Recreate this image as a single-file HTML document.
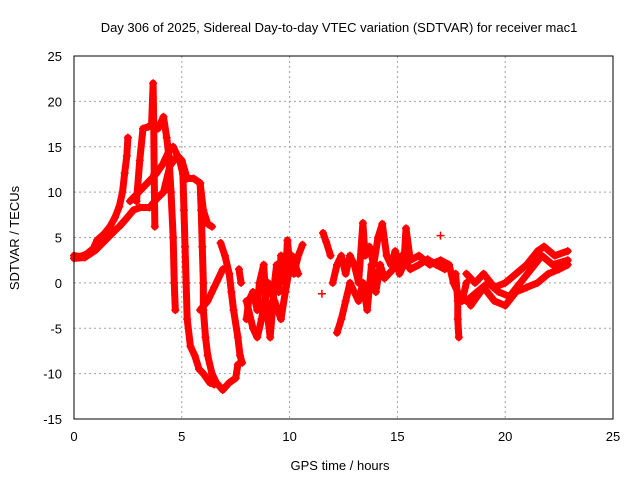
<!DOCTYPE html>
<html><head><meta charset="utf-8"><style>
body{margin:0;background:#fff;}
svg text{font-family:"Liberation Sans",sans-serif;font-size:13px;fill:#000;}
</style></head><body>
<svg width="640" height="480">
<g id="grid"></g>
<g id="series"></g>
<rect x="74" y="56" width="539" height="363" fill="none" stroke="#000"/>
<g id="ticks"></g>
<text x="339" y="32" text-anchor="middle">Day 306 of 2025, Sidereal Day-to-day VTEC variation (SDTVAR) for receiver mac1</text>
<text x="340" y="470" text-anchor="middle">GPS time / hours</text>
<text transform="translate(19,238) rotate(-90)" text-anchor="middle">SDTVAR / TECUs</text>
</svg>
<script>
const xTicks=[0,5,10,15,20,25];
const yTicks=[-15,-10,-5,0,5,10,15,20,25];
const trackA=[[0,3],[0.3,2.9],[0.6,3.2],[0.9,3.8],[1.07,4.7],[1.4,5.4],[1.67,6.2],[1.9,7.2],[2.1,8.4],[2.25,10],[2.35,12.1],[2.45,14],[2.5,16]];
const trackA2=[[0,2.7],[0.5,2.8],[1,3.6],[1.5,4.8],[2,6]];
const trackB=[[2.1,6.2],[2.4,7],[2.75,8],[3.05,8.3],[3.5,8.3],[3.85,9.3],[4.15,10],[4.45,12.9],[4.8,14],[5,13.5],[5.25,11.5],[5.55,11.5],[5.85,11],[6,8],[6.2,6.5],[6.4,6.2]];
const trackB2=[[2.6,9],[3.0,10],[3.4,11],[3.8,12],[4.1,13],[4.4,14.5]];
const trackC=[[2.9,9],[3.05,13.5],[3.2,17],[3.45,17.2],[3.6,17.5],[3.67,22],[3.7,17],[3.72,12],[3.75,6.2]];
const trackD=[[3.9,17],[4.15,18.3],[4.3,16],[4.4,14],[4.5,10],[4.6,5],[4.65,0],[4.7,-3]];
const trackE=[[4.6,15],[4.9,13.5],[5.05,12],[5.1,8],[5.15,4],[5.2,0],[5.25,-4],[5.4,-7],[5.6,-8],[5.8,-9.5],[6.0,-10],[6.3,-11],[6.5,-11.2]];
const trackF=[[5.85,11],[5.9,8],[5.95,4],[6.0,0],[6.0,-3],[6.1,-6],[6.2,-8],[6.4,-10],[6.6,-11],[6.9,-11.8],[7.2,-11],[7.5,-10.5],[7.6,-9]];
const trackG=[[5.85,-3],[6.2,-2],[6.5,-0.5],[6.9,1.5]];
const trackH=[[6.8,4.4],[7.0,3],[7.2,1],[7.3,-1],[7.4,-3],[7.6,-6],[7.7,-8],[7.8,-8.8]];
const trackI=[[7.65,1.5],[7.75,0]];
const trackJ=[[8.0,-4],[8.1,-2],[8.3,-1],[8.5,-3],[8.6,0],[8.8,2],[8.9,-2],[9.0,-4],[9.1,-6],[9.2,-3],[9.3,0],[9.4,2],[9.5,-1],[9.6,3],[9.7,1],[9.8,0],[9.9,4.7],[10.0,2],[10.2,1],[10.4,3],[10.6,4.2]];
const trackJ2=[[8.0,-2],[8.3,-5],[8.5,-6],[8.7,-4],[9.0,0],[9.3,-2],[9.6,-4],[9.8,-1],[10.1,3],[10.4,1]];
const trackR1=[[11.55,5.5],[11.7,4.5],[11.9,3]];
const trackR2=[[12.0,0],[12.2,2],[12.4,3],[12.6,1],[12.8,3],[13.0,2],[13.2,0],[13.4,6.6],[13.5,3],[13.7,4],[13.9,2],[14.1,5],[14.3,6.5],[14.5,3],[14.7,2],[14.9,3.5],[15.1,1],[15.3,2],[15.4,6],[15.6,2.5],[16,3],[16.5,2],[17,2.5],[17.4,2],[17.6,0],[17.8,-1],[18,-2],[18.2,0]];
const trackR3=[[12.2,-5.5],[12.4,-4],[12.6,-2],[12.8,0],[13.0,-1],[13.2,-2],[13.4,0],[13.6,-3],[13.8,2],[14.0,-1],[14.2,2],[14.4,0.5],[14.8,1.5],[15.2,3],[15.6,1.5],[16.0,2],[16.4,2.6],[16.8,2],[17.2,1.5]];
const trackR4=[[17.7,1],[17.8,-2],[17.8,-4],[17.85,-6]];
const trackS1=[[18.2,1],[18.6,0],[19,1],[19.5,-0.5],[20,0],[20.5,1],[21,2],[21.5,3.5],[21.8,4],[22.3,3],[22.9,3.5]];
const trackS2=[[18.2,-2],[18.7,-1],[19.2,0],[19.7,-1],[20.2,-1.5],[20.7,0],[21.2,1.5],[21.7,3],[22.2,2],[22.9,2.5]];
const trackS3=[[18.4,-2.5],[19,-0.5],[19.5,-2],[20,-2.5],[20.5,-1],[21,-0.5],[21.5,0],[22,1],[22.5,1.5],[22.9,2]];
const isolated=[[11.5,-1.2],[17.0,5.2]];
const tracks=[trackA,trackA2,trackB,trackB2,trackC,trackD,trackE,trackF,trackG,trackH,trackI,trackJ,trackJ2,trackR1,trackR2,trackR3,trackR4,trackS1,trackS2,trackS3];

const NS="http://www.w3.org/2000/svg";
const X=v=>74+v*(539/25);
const Y=v=>56+(25-v)*(363/40);
const grid=document.getElementById('grid'),ticks=document.getElementById('ticks'),ser=document.getElementById('series');
function mk(t,a,p){const e=document.createElementNS(NS,t);for(const k in a)e.setAttribute(k,a[k]);p.appendChild(e);return e;}
xTicks.forEach(v=>{
 if(v>0&&v<25){const l=mk('line',{x1:X(v),x2:X(v),y1:56,y2:419,stroke:'#a0a0a0','stroke-dasharray':'2,3'},grid);
 
 }
 const t=mk('text',{x:X(v),y:441,'text-anchor':'middle'},ticks);t.textContent=v;
 
 
});
yTicks.forEach(v=>{
 if(v>-15&&v<25){const l=mk('line',{x1:74,x2:613,y1:Y(v),y2:Y(v),stroke:'#a0a0a0','stroke-dasharray':'2,3'},grid);
 
 }
 const t=mk('text',{x:62,y:Y(v)+5,'text-anchor':'end'},ticks);t.textContent=v;
 
 
});
tracks.forEach(tr=>{
 const p=mk('polyline',{points:tr.map(d=>X(d[0])+','+Y(d[1])).join(' '),fill:'none',stroke:'#ff0000','stroke-width':7,'stroke-linejoin':'round','stroke-linecap':'round'},ser);
 
 
});
tracks.concat([isolated]).forEach(tr=>tr.forEach(d=>{
 const x=X(d[0]),y=Y(d[1]);
 const m=mk('path',{d:`M${x-4},${y}H${x+4}M${x},${y-4}V${y+4}`,stroke:'#ff0000','stroke-width':1.5},ser);
 
 
}));
</script>
</body></html>
